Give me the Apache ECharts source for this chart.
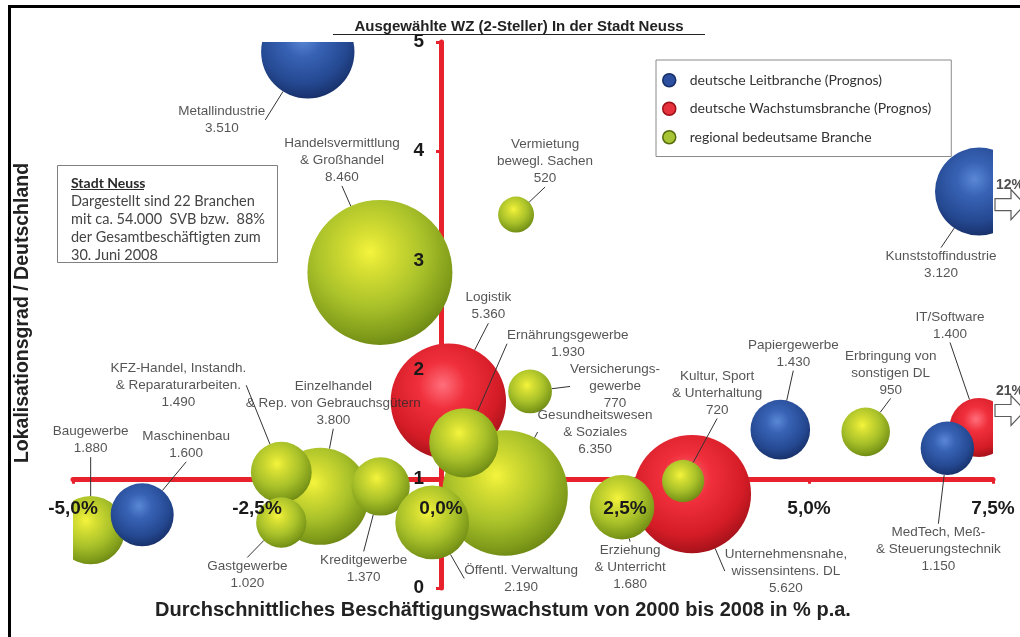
<!DOCTYPE html>
<html>
<head>
<meta charset="utf-8">
<script src="https://cdn.jsdelivr.net/npm/echarts@6/dist/echarts.min.js"></script>
<style>
  html, body { margin: 0; padding: 0; background: #fff; }
  #chart { width: 1020px; height: 637px; }
</style>
</head>
<body>
<div id="chart"></div>
<script>
// Branches (WZ 2-digit) in the city of Neuss:
// x = average employment growth 2000–2008 in % p.a.,
// y = location quotient vs. Germany, bubble area = employees (SVB).
// Listed back-to-front so overlapping bubbles stack correctly.
const branchNames = [
  'Logistik',
  'Unternehmensnahe,\nwissensintens. DL',
  'IT/Software',
  'Handelsvermittlung\n& Großhandel',
  'Vermietung\nbewegl. Sachen',
  'Einzelhandel\n& Rep. von Gebrauchsgütern',
  'KFZ-Handel, Instandh.\n& Reparaturarbeiten.',
  'Gastgewerbe',
  'Kreditgewerbe',
  'Gesundheitswesen\n& Soziales',
  'Öffentl. Verwaltung',
  'Ernährungsgewerbe',
  'Versicherungs-\ngewerbe',
  'Baugewerbe',
  'Erziehung\n& Unterricht',
  'Kultur, Sport\n& Unterhaltung',
  'Erbringung von\nsonstigen DL',
  'Metallindustrie',
  'Kunststoffindustrie',
  'Maschinenbau',
  'Papiergewerbe',
  'MedTech, Meß-\n& Steuerungstechnik'
];
const growthPct = [
  0.10, 3.41, 21,
  -0.83, 1.02, -1.64, -2.17, -2.17, -0.82, 0.87, -0.12, 0.31, 1.21, -4.76, 2.46, 3.29, 5.77,
  -1.81, 12, -4.06, 4.61, 6.88
];
const locQuotient = [
  1.71, 0.86, 1.47,
  2.89, 3.42, 0.84, 1.06, 0.60, 0.93, 0.87, 0.60, 1.33, 1.80, 0.53, 0.74, 0.98, 1.43,
  4.91, 3.63, 0.67, 1.45, 1.28
];
const employees = [
  5360, 5620, 1400,
  8460, 520, 3800, 1490, 1020, 1370, 6350, 2190, 1930, 770, 1880, 1680, 720, 950,
  3510, 3120, 1600, 1430, 1150
];
const branchGroup = [
  'wachstum', 'wachstum', 'wachstum',
  'regional', 'regional', 'regional', 'regional', 'regional', 'regional', 'regional',
  'regional', 'regional', 'regional', 'regional', 'regional', 'regional', 'regional',
  'leit', 'leit', 'leit', 'leit', 'leit'
];

const xTickValues = [-5, -2.5, 0, 2.5, 5, 7.5];
const yTickValues = [0, 1, 2, 3, 4, 5];
const groupLabels = {
  leit: 'deutsche Leitbranche (Prognos)',
  wachstum: 'deutsche Wachstumsbranche (Prognos)',
  regional: 'regional bedeutsame Branche'
};
const legendOrder = ['leit', 'wachstum', 'regional'];
const drawOrder = ['wachstum', 'regional', 'leit'];

// ---- layout ----
const X_MIN = xTickValues[0], X_MAX = xTickValues[xTickValues.length - 1], X_STEP = 2.5;
const Y_MIN = yTickValues[0], Y_MAX = yTickValues[yTickValues.length - 1];
const X_AXIS_CROSS_Y = 1;          // horizontal axis crosses at Lokalisationsgrad = 1
const Y_AXIS_CROSS_X = 0;          // vertical axis crosses at 0 % growth
const PIN_X = 7.31;                // off-scale growth values are pinned at the right edge
const GRID = { left: 73, right: 27, top: 42, bottom: 49 };
const CHART_W = 1020, CHART_H = 637;
const GRID_W = CHART_W - GRID.left - GRID.right;
const GRID_H = CHART_H - GRID.top - GRID.bottom;
const SIZE_K = 1.576;              // bubble diameter per sqrt(employee)
const RED = '#e8222c';
const SANS = '"Liberation Sans", Arial, sans-serif';
const SOFT = 'Lato, "Noto Sans", sans-serif';

// label offsets from bubble centre (px), in branch order
const labelShift = [
  [40, -95], [94, 77], [-29, -102],
  [-38, -112], [29, -53], [13, -93], [-103, -87], [-34, 52], [-17, 82], [90, -61],
  [89, 56], [104, -99], [85, -5], [0, -90], [8, 60], [34, -88], [25, -59],
  [-86, 68], [-38, 73], [44, -70], [13, -76], [-9, 101]
];
const arrowShift = { 'Kunststoffindustrie': 13, 'IT/Software': -17 };

const diameter = v => SIZE_K * Math.sqrt(v);
const fmtCount = n => n >= 1000 ? Math.floor(n / 1000) + '.' + String(n % 1000).padStart(3, '0') : String(n);
const fmtPct = v => v.toFixed(1).replace('.', ',') + '%';

const rows = branchNames.map((name, i) => ({
  name,
  growth: growthPct[i],
  x: growthPct[i] > X_MAX ? PIN_X : growthPct[i],
  y: locQuotient[i],
  emp: employees[i],
  group: branchGroup[i],
  shift: labelShift[i]
}));

const RG = echarts.graphic.RadialGradient;
const sphereFill = {
  regional: new RG(0.43, 0.36, 0.68, [
    { offset: 0, color: '#f4f43c' }, { offset: 0.22, color: '#d4dd32' },
    { offset: 0.55, color: '#aac22a' }, { offset: 0.85, color: '#809c1a' },
    { offset: 1, color: '#6a8412' }
  ]),
  leit: new RG(0.45, 0.36, 0.68, [
    { offset: 0, color: '#5b87d6' }, { offset: 0.3, color: '#3762b4' },
    { offset: 0.7, color: '#254992' }, { offset: 1, color: '#152c63' }
  ]),
  wachstum: new RG(0.45, 0.36, 0.68, [
    { offset: 0, color: '#ff6f7c' }, { offset: 0.3, color: '#f0303c' },
    { offset: 0.72, color: '#d41c26' }, { offset: 1, color: '#9c1018' }
  ])
};
const legendColors = {
  leit: { color: '#2d4fa0', borderColor: '#172f68' },
  wachstum: { color: '#e6323c', borderColor: '#9c1018' },
  regional: { color: '#a6c434', borderColor: '#556c0e' }
};

const bubbleSeries = drawOrder.map((g, k) => ({
  type: 'custom',
  name: groupLabels[g],
  coordinateSystem: 'cartesian2d',
  z: 2 + k,
  clip: true,
  silent: true,
  encode: { x: 0, y: 1 },
  data: rows.filter(r => r.group === g).map(r => [r.x, r.y, r.emp]),
  renderItem: (params, api) => {
    const c = api.coord([api.value(0), api.value(1)]);
    return {
      type: 'circle',
      shape: { cx: c[0], cy: c[1], r: diameter(api.value(2)) / 2 },
      style: { fill: sphereFill[g] }
    };
  }
}));

const labelSeries = {
  type: 'scatter',
  name: 'branchLabels',
  z: 20,
  silent: true,
  clip: false,
  data: rows.map(r => ({ value: [r.x, r.y, r.emp], name: r.name })),
  symbolSize: v => diameter(v[2]),
  itemStyle: { color: 'rgba(0,0,0,0)' },
  emphasis: { disabled: true },
  label: {
    show: true,
    position: 'inside',
    align: 'center',
    formatter: p => p.name + '\n' + fmtCount(p.value[2]),
    color: '#2a2a2a',
    fontFamily: SANS,
    fontSize: 13.5,
    lineHeight: 17
  },
  labelLine: { show: true, lineStyle: { color: '#333', width: 1 } },
  labelLayout: p => ({ dx: rows[p.dataIndex].shift[0], dy: rows[p.dataIndex].shift[1] })
};

const ARROW = 'path://M0,9 L16,9 L16,0 L30,15 L16,30 L16,21 L0,21 Z';
const arrowSeries = {
  type: 'scatter',
  name: 'offScale',
  z: 25,
  silent: true,
  clip: false,
  symbol: ARROW,
  symbolSize: [30, 30],
  symbolKeepAspect: false,
  itemStyle: { color: '#fff', borderColor: '#333', borderWidth: 1.2 },
  emphasis: { disabled: true },
  data: rows.filter(r => r.growth > X_MAX).map(r => ({
    value: [X_MAX, r.y],
    symbolOffset: [17, arrowShift[r.name]],
    label: { formatter: r.growth + '%' }
  })),
  label: {
    show: true, position: 'top', distance: -3,
    fontFamily: SANS, fontWeight: 'bold', fontSize: 14, color: '#222'
  }
};

// axes cross inside the plot: shift them from the grid edge by the scale
const xOffset = -GRID_H * (X_AXIS_CROSS_Y - Y_MIN) / (Y_MAX - Y_MIN);
const yOffset = -GRID_W * (Y_AXIS_CROSS_X - X_MIN) / (X_MAX - X_MIN);
const xBase = {
  type: 'value', min: X_MIN, max: X_MAX, interval: X_STEP,
  position: 'bottom', offset: xOffset, splitLine: { show: false }
};
const yBase = {
  type: 'value', min: Y_MIN, max: Y_MAX, interval: 1,
  position: 'left', offset: yOffset, splitLine: { show: false }
};
const tickFont = { fontFamily: SANS, fontWeight: 'bold', fontSize: 19, color: '#1a1a1a' };

const option = {
  backgroundColor: '#fff',
  animation: false,
  grid: Object.assign({ containLabel: false, outerBoundsMode: 'none' }, GRID),
  legend: {
    orient: 'vertical',
    left: 656, top: 60,
    itemWidth: 13, itemHeight: 13, itemGap: 14,
    padding: [13, 20, 12, 6],
    backgroundColor: '#fff',
    borderColor: '#8a8a8a', borderWidth: 1, borderRadius: 0,
    selectedMode: false,
    textStyle: { fontFamily: SOFT, fontSize: 14, color: '#333', padding: [0, 0, 0, 9] },
    data: legendOrder.map(g => ({
      name: groupLabels[g], icon: 'circle',
      itemStyle: Object.assign({ borderWidth: 1.5 }, legendColors[g])
    }))
  },
  xAxis: [
    Object.assign({}, xBase, {
      z: 1,
      axisLine: { show: true, onZero: false, lineStyle: { color: RED, width: 5 } },
      axisTick: { show: true, length: 5, lineStyle: { color: RED, width: 3 } },
      axisLabel: { show: false }
    }),
    Object.assign({}, xBase, {
      z: 10,
      axisLine: { show: false, onZero: false },
      axisTick: { show: false },
      axisLabel: Object.assign({ show: true, margin: 20, showMinLabel: true, showMaxLabel: true, formatter: fmtPct }, tickFont)
    })
  ],
  yAxis: [
    Object.assign({}, yBase, {
      z: 1,
      axisLine: { show: true, onZero: false, lineStyle: { color: RED, width: 5 } },
      axisTick: { show: true, length: 5, lineStyle: { color: RED, width: 3 } },
      axisLabel: { show: false }
    }),
    Object.assign({}, yBase, {
      z: 10,
      axisLine: { show: false, onZero: false },
      axisTick: { show: false },
      axisLabel: Object.assign({ show: true, margin: 17, showMinLabel: true, showMaxLabel: true }, tickFont)
    })
  ],
  graphic: [
    { type: 'rect', z: 0, silent: true, shape: { x: 9.5, y: 6.5, width: 1020, height: 640 },
      style: { fill: 'none', stroke: '#000', lineWidth: 3 } },
    { type: 'text', z: 30, silent: true, x: 519, y: 27,
      style: { text: 'Ausgewählte WZ (2-Steller) In der Stadt Neuss', font: 'bold 15px ' + SANS,
               fill: '#222', align: 'center', verticalAlign: 'middle' } },
    { type: 'line', z: 30, silent: true, shape: { x1: 333, y1: 34.5, x2: 705, y2: 34.5 },
      style: { stroke: '#222', lineWidth: 1.2 } },
    { type: 'text', z: 30, silent: true, x: 503, y: 610,
      style: { text: 'Durchschnittliches Beschäftigungswachstum von 2000 bis 2008 in % p.a.',
               font: 'bold 20px ' + SANS, fill: '#222', align: 'center', verticalAlign: 'middle' } },
    { type: 'text', z: 30, silent: true, x: 23, y: 313, rotation: Math.PI / 2,
      style: { text: 'Lokalisationsgrad / Deutschland', font: 'bold 19.5px ' + SANS,
               fill: '#222', align: 'center', verticalAlign: 'middle' } },
    { type: 'rect', z: 30, silent: true, shape: { x: 57.5, y: 165.5, width: 220, height: 97 },
      style: { fill: '#fff', stroke: '#808080', lineWidth: 1 } },
    { type: 'text', z: 31, silent: true, x: 71, y: 183,
      style: { text: 'Stadt Neuss', font: 'bold 14px ' + SOFT, fill: '#2a2a2a', verticalAlign: 'middle' } },
    { type: 'line', z: 31, silent: true, shape: { x1: 71, y1: 189.5, x2: 144, y2: 189.5 },
      style: { stroke: '#2a2a2a', lineWidth: 1 } },
    { type: 'text', z: 31, silent: true, x: 71, y: 192,
      style: { text: 'Dargestellt sind 22 Branchen\nmit ca. 54.000  SVB bzw.  88%\nder Gesamtbeschäftigten zum\n30. Juni 2008',
               font: '14.5px ' + SOFT, lineHeight: 18, fill: '#444', verticalAlign: 'top' } }
  ],
  series: bubbleSeries.concat([labelSeries, arrowSeries])
};

const chart = echarts.init(document.getElementById('chart'), null, { renderer: 'canvas' });
chart.setOption(option);
</script>
</body>
</html>
